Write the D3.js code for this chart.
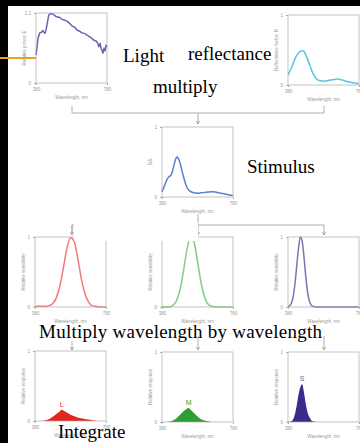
<!DOCTYPE html>
<html>
<head>
<meta charset="utf-8">
<script src="https://cdn.jsdelivr.net/npm/d3@7"></script>
<style>
  html, body { margin: 0; padding: 0; background: #000; }
  svg { display: block; }
</style>
</head>
<body>
<div id="chart"></div>
<script>
// values (wavelength in nm)
const lightWl  = [380, 386, 391, 397, 403, 409, 414, 419, 425, 431, 437, 442, 448, 453, 459, 465, 476, 493, 504, 515, 527, 538, 549, 555, 566, 583, 600, 611, 625, 639, 653, 667, 678, 684, 696, 707, 718, 724, 730, 735, 741, 746, 752, 758, 763, 769, 775, 780];
const lightVal = [0.48, 0.62, 0.75, 0.82, 0.87, 0.86, 0.88, 0.90, 0.87, 0.85, 0.92, 1.00, 1.10, 1.17, 1.18, 1.19, 1.18, 1.14, 1.13, 1.12, 1.09, 1.08, 1.07, 1.06, 1.03, 0.98, 0.95, 0.91, 0.89, 0.86, 0.85, 0.82, 0.80, 0.79, 0.76, 0.73, 0.72, 0.70, 0.66, 0.62, 0.68, 0.60, 0.56, 0.51, 0.60, 0.55, 0.65, 0.62];

const reflWl  = [380, 400, 420, 440, 460, 470, 480, 500, 520, 540, 560, 580, 600, 620, 640, 660, 680, 700, 720, 740, 760, 780];
const reflVal = [0.14, 0.25, 0.38, 0.46, 0.49, 0.48, 0.43, 0.30, 0.17, 0.09, 0.06, 0.055, 0.06, 0.07, 0.08, 0.085, 0.075, 0.06, 0.045, 0.035, 0.025, 0.02];

const stimWl  = [380, 390, 400, 410, 420, 430, 440, 450, 460, 465, 470, 480, 490, 500, 510, 520, 530, 540, 560, 580, 600, 620, 640, 660, 680, 700, 720, 740, 760, 780];
const stimVal = [0.07, 0.14, 0.20, 0.26, 0.29, 0.31, 0.38, 0.48, 0.56, 0.57, 0.56, 0.50, 0.40, 0.30, 0.21, 0.14, 0.10, 0.08, 0.06, 0.055, 0.06, 0.065, 0.07, 0.075, 0.07, 0.06, 0.05, 0.04, 0.03, 0.02];

const coneWl = [380, 400, 420, 440, 460, 480, 500, 520, 540, 560, 580, 600, 620, 640, 660, 680, 700, 720, 740, 760, 780];
const coneL  = [0.01, 0.01, 0.01, 0.01, 0.02, 0.05, 0.13, 0.30, 0.56, 0.84, 0.99, 0.94, 0.71, 0.42, 0.20, 0.08, 0.02, 0.01, 0, 0, 0];
const coneM  = [0, 0, 0, 0.02, 0.08, 0.23, 0.50, 0.81, 0.99, 0.93, 0.65, 0.35, 0.14, 0.04, 0.01, 0, 0, 0, 0, 0, 0];
const sWl    = [380, 390, 400, 410, 420, 430, 440, 450, 460, 470, 480, 490, 500, 510, 520, 540, 600, 700, 780];
const coneS  = [0, 0.02, 0.06, 0.16, 0.35, 0.61, 0.86, 1.0, 0.94, 0.72, 0.44, 0.22, 0.09, 0.03, 0.01, 0, 0, 0, 0];

const respLWl  = [380, 420, 440, 460, 480, 500, 520, 530, 540, 560, 580, 600, 620, 640, 660, 680, 700, 720, 740, 780];
const respL    = [0, 0, 0.01, 0.03, 0.06, 0.10, 0.14, 0.16, 0.15, 0.12, 0.09, 0.07, 0.05, 0.04, 0.03, 0.02, 0.01, 0.005, 0, 0];
const respMWl  = [380, 400, 420, 440, 460, 480, 500, 520, 530, 540, 560, 580, 600, 620, 640, 660, 780];
const respM    = [0, 0, 0.005, 0.02, 0.05, 0.10, 0.15, 0.19, 0.20, 0.18, 0.13, 0.08, 0.04, 0.02, 0.01, 0, 0];
const respSWl  = [380, 400, 420, 430, 440, 450, 460, 470, 480, 490, 500, 510, 520, 540, 780];
const respS    = [0, 0.01, 0.12, 0.25, 0.40, 0.50, 0.54, 0.42, 0.26, 0.14, 0.07, 0.03, 0.01, 0, 0];

const W = 360, H = 443;
const pw = 71, ph = 70;

const svg = d3.select('#chart').append('svg')
  .attr('width', W).attr('height', H);

svg.append('rect').attr('x', 8).attr('y', 6)
  .attr('width', W - 8).attr('height', H - 6).attr('fill', '#fff');

svg.append('line').attr('x1', 0).attr('x2', 36).attr('y1', 58).attr('y2', 58)
  .attr('stroke', '#e8a317').attr('stroke-width', 2);

function panel(x0, y0, opt) {
  const g = svg.append('g').attr('transform', `translate(${x0},${y0})`);
  const x = d3.scaleLinear().domain([380, 780]).range([0, pw]);
  const y = d3.scaleLinear().domain([0, opt.yMax]).range([ph, 0]);
  const pts = opt.wl.map((w, i) => ({ w, v: opt.val[i] }));

  if (opt.fill) {
    const area = d3.area().x(d => x(d.w)).y0(ph).y1(d => y(d.v)).curve(d3.curveMonotoneX);
    g.append('path').datum(pts).attr('fill', opt.fill).attr('d', area);
  } else {
    const line = d3.line().x(d => x(d.w)).y(d => y(d.v)).curve(d3.curveMonotoneX);
    g.append('path').datum(pts).attr('fill', 'none')
      .attr('stroke', opt.color).attr('stroke-width', 1.5).attr('d', line);
  }

  g.append('rect').attr('width', pw).attr('height', ph)
    .attr('fill', 'none').attr('stroke', '#aaa').attr('stroke-width', 0.7);

  g.append('g').attr('transform', `translate(0,${ph})`)
    .call(d3.axisBottom(x).tickValues([380, 780]).tickSize(2).tickPadding(3))
    .call(a => a.select('.domain').remove())
    .call(a => a.selectAll('line').attr('stroke', '#aaa'))
    .call(a => a.selectAll('text').attr('font-size', 4.5).attr('fill', '#999').attr('font-family', 'Arial, sans-serif'));

  g.append('g')
    .call(d3.axisLeft(y).tickValues([0, opt.yMax]).tickFormat(d => d === 0 ? '0' : opt.topLabel).tickSize(2).tickPadding(3))
    .call(a => a.select('.domain').remove())
    .call(a => a.selectAll('line').attr('stroke', '#aaa'))
    .call(a => a.selectAll('text').attr('font-size', 4.5).attr('fill', '#999').attr('font-family', 'Arial, sans-serif'));

  g.append('text').attr('x', pw / 2).attr('y', ph + 16)
    .attr('text-anchor', 'middle').attr('font-size', 4.5).attr('fill', '#999')
    .attr('font-family', 'Arial, sans-serif').text('Wavelength, nm');

  g.append('text').attr('transform', `translate(-10,${ph / 2}) rotate(-90)`)
    .attr('text-anchor', 'middle').attr('font-size', opt.yBig ? 6 : 4.5).attr('fill', '#999')
    .attr('font-family', 'Arial, sans-serif').text(opt.yLabel);

  if (opt.mark) {
    const peak = pts.reduce((a, b) => (b.v > a.v ? b : a));
    g.append('text').attr('x', x(peak.w)).attr('y', y(peak.v) - 3)
      .attr('text-anchor', 'middle').attr('font-size', 7).attr('fill', opt.markColor)
      .attr('font-family', 'Arial, sans-serif').text(opt.mark);
  }
}

// connectors
const conn = svg.append('g').attr('stroke', '#999').attr('stroke-width', 0.8).attr('fill', 'none');
function arrow(x, y1, y2) {
  conn.append('line').attr('x1', x).attr('x2', x).attr('y1', y1).attr('y2', y2);
  conn.append('path').attr('d', `M${x - 1.6},${y2 - 3}L${x},${y2}L${x + 1.6},${y2 - 3}`);
}
conn.append('path').attr('d', 'M72,106V113H324V106');
arrow(198, 113, 124);
conn.append('path').attr('d', 'M72,234V225H324');
conn.append('line').attr('x1', 198).attr('x2', 198).attr('y1', 214).attr('y2', 225);
arrow(72, 225, 235);
arrow(198, 225, 235);
arrow(324, 225, 235);
arrow(72, 341, 350);
arrow(198, 336, 350);
arrow(324, 336, 350);

panel(36, 13, { wl: lightWl, val: lightVal, yMax: 1.2, topLabel: '1.2', yLabel: 'Relative power, E', color: '#6b62b5' });
panel(288, 15, { wl: reflWl, val: reflVal, yMax: 1, topLabel: '1', yLabel: 'Reflectance factor, R', color: '#55c4e6' });
panel(162, 127, { wl: stimWl, val: stimVal, yMax: 1, topLabel: '1', yLabel: 'Sλ', yBig: true, color: '#5b7fcf' });

panel(35, 237, { wl: coneWl, val: coneL, yMax: 1, topLabel: '1', yLabel: 'Relative sensitivity', color: '#ee7b78' });
panel(162, 237, { wl: coneWl, val: coneM, yMax: 1, topLabel: '1', yLabel: 'Relative sensitivity', color: '#7fcf7f' });
panel(288, 237, { wl: sWl, val: coneS, yMax: 1, topLabel: '1', yLabel: 'Relative sensitivity', color: '#7a75b5' });

panel(35, 351, { wl: respLWl, val: respL, yMax: 1, topLabel: '1', yLabel: 'Relative response', fill: '#e3261f', mark: 'L', markColor: '#e3261f' });
panel(162, 352, { wl: respMWl, val: respM, yMax: 1, topLabel: '1', yLabel: 'Relative response', fill: '#2e9e34', mark: 'M', markColor: '#2e9e34' });
panel(288, 352, { wl: respSWl, val: respS, yMax: 1, topLabel: '1', yLabel: 'Relative response', fill: '#3a2a8a', mark: 'S', markColor: '#5e57a8' });

// captions
const cap = svg.append('g').attr('font-family', '"Liberation Serif", "Times New Roman", serif')
  .attr('font-size', 19).attr('fill', '#000');
cap.append('text').attr('x', 123).attr('y', 62).text('Light');
cap.append('text').attr('x', 188).attr('y', 60).text('reflectance');
cap.append('text').attr('x', 153).attr('y', 93).text('multiply');
cap.append('text').attr('x', 247).attr('y', 173).text('Stimulus');

svg.append('rect').attr('x', 74).attr('y', 222).attr('width', 124).attr('height', 19).attr('fill', '#fff');
cap.append('text').attr('x', 75).attr('y', 237).text('Cone responses');
cap.append('text').attr('x', 39).attr('y', 338).attr('textLength', 283).text('Multiply wavelength by wavelength');
cap.append('text').attr('x', 58).attr('y', 438).text('Integrate');
</script>
</body>
</html>
